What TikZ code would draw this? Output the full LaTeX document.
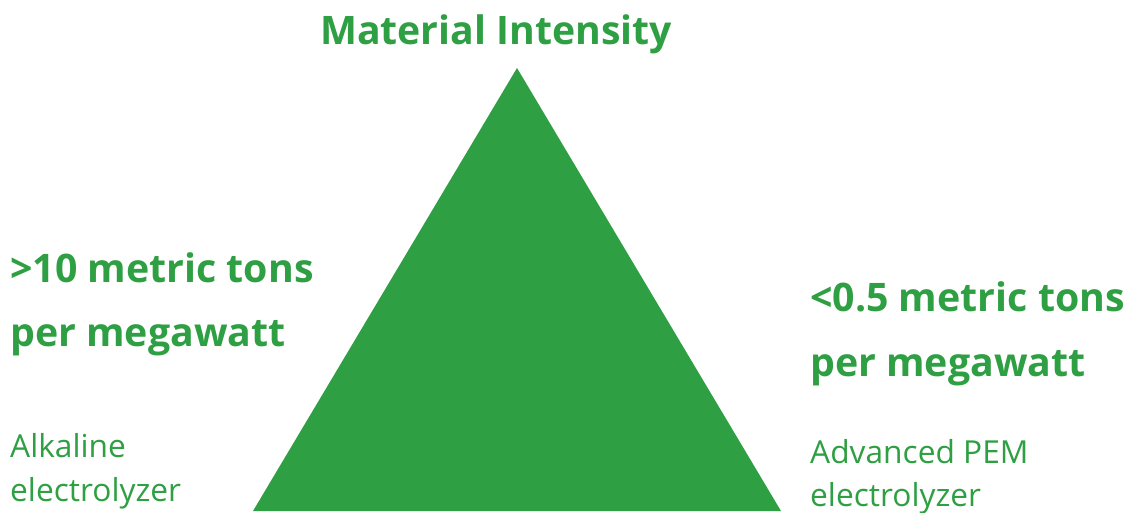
\documentclass[tikz,border=0pt]{standalone}
\usepackage{fontspec}
\setmainfont{Open Sans}
\definecolor{mygreen}{HTML}{2E9F42}
\begin{document}
\begin{tikzpicture}[x=1pt,y=-1pt,
  title/.style={text=mygreen,font=\fontsize{39.2}{39.2}\selectfont\bfseries,inner sep=0pt,anchor=base},
  big/.style={text=mygreen,font=\fontsize{39.3}{39.3}\selectfont\bfseries,inner sep=0pt,anchor=base west},
  small/.style={text=mygreen,font=\fontsize{31.7}{31.7}\selectfont,inner sep=0pt,anchor=base west}]
\useasboundingbox (0,0) rectangle (1129,513);
\fill[mygreen] (517,68) -- (253,511) -- (781,511) -- cycle;
\node[title] (t) at (496,45) {Material Intensity};
\node[big] (l1) at (10,282) {>10 metric tons};
\node[big] (l2) at (10,346) {per megawatt};
\node[small] (l3) at (10,457) {Alkaline};
\node[small] (l4) at (10,501) {electrolyzer};
\node[big] (r1) at (810,311) {<0.5 metric tons};
\node[big] (r2) at (810,376) {per megawatt};
\node[small] (r3) at (810,463) {Advanced PEM};
\node[small] (r4) at (810,506) {electrolyzer};
\end{tikzpicture}
\end{document}
